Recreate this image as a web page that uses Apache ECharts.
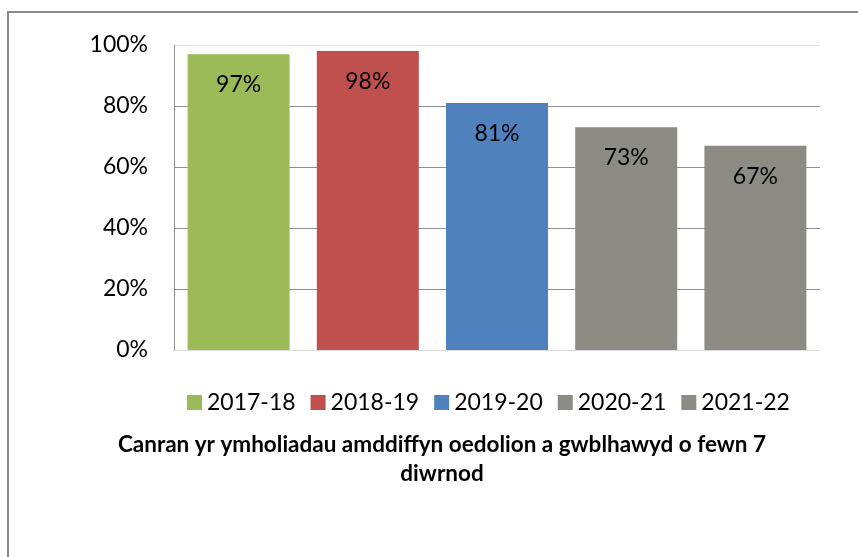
<!DOCTYPE html>
<html>
<head>
<meta charset="utf-8">
<script src="https://cdn.jsdelivr.net/npm/echarts@6/dist/echarts.min.js"></script>
<style>
  html, body { margin: 0; padding: 0; background: #fff; }
  #chart { width: 858px; height: 557px; }
</style>
</head>
<body>
<div id="chart"></div>
<script>
var years = ['2017-18', '2018-19', '2019-20', '2020-21', '2021-22'];
var values = [97, 98, 81, 73, 67];
var colors = ['#9BBB59', '#C0504D', '#4F81BD', '#8C8C85', '#8C8C85'];
var yTicks = [0, 20, 40, 60, 80, 100];
var titleText = 'Canran yr ymholiadau amddiffyn oedolion a gwblhawyd o fewn 7\ndiwrnod';

var chart = echarts.init(document.getElementById('chart'));

// one series per year so the legend lists each year; stacked so each sits in its own slot
var series = years.map(function (y, i) {
    return {
        name: y,
        type: 'bar',
        stack: 'all',
        barWidth: 102,
        itemStyle: { color: colors[i] },
        label: {
            show: true,
            position: 'insideTop',
            distance: 19,
            formatter: '{c}%',
            color: '#000',
            fontFamily: 'Lato',
            fontSize: 23
        },
        data: years.map(function (_, j) { return j === i ? values[i] : '-'; })
    };
});

option = {
    animation: false,
    graphic: [{
        type: 'rect',
        shape: { x: 8, y: 12, width: 900, height: 600 },
        style: { fill: 'none', stroke: '#8a8a8a', lineWidth: 2 }
    }],
    title: {
        text: titleText,
        left: 437,
        top: 425,
        textAlign: 'center',
        textStyle: {
            fontFamily: 'Lato',
            fontWeight: 'bold',
            fontSize: 22.5,
            lineHeight: 29,
            color: '#000'
        }
    },
    legend: {
        data: years,
        left: 182,
        top: 386,
        itemWidth: 15,
        itemHeight: 15,
        itemGap: 15,
        icon: 'rect',
        textStyle: { fontFamily: 'Lato', fontSize: 23, color: '#000' }
    },
    grid: { left: 174, right: 38, top: 45, bottom: 207 },
    xAxis: {
        type: 'category',
        data: years,
        axisLine: { show: false },
        axisTick: { show: false },
        axisLabel: { show: false }
    },
    yAxis: {
        type: 'value',
        min: yTicks[0],
        max: yTicks[yTicks.length - 1],
        interval: 20,
        axisLine: { show: true, lineStyle: { color: '#8f8f8f', width: 1 } },
        axisTick: { show: false },
        axisLabel: {
            margin: 26,
            formatter: '{value}%',
            fontFamily: 'Lato',
            fontSize: 23,
            color: '#000'
        },
        splitLine: {
            lineStyle: {
                color: ['#dcdcdc', '#8f8f8f', '#8f8f8f', '#8f8f8f', '#8f8f8f', '#e4e4e4'],
                width: 1
            }
        }
    },
    series: series
};

chart.setOption(option, true);
</script>
</body>
</html>
